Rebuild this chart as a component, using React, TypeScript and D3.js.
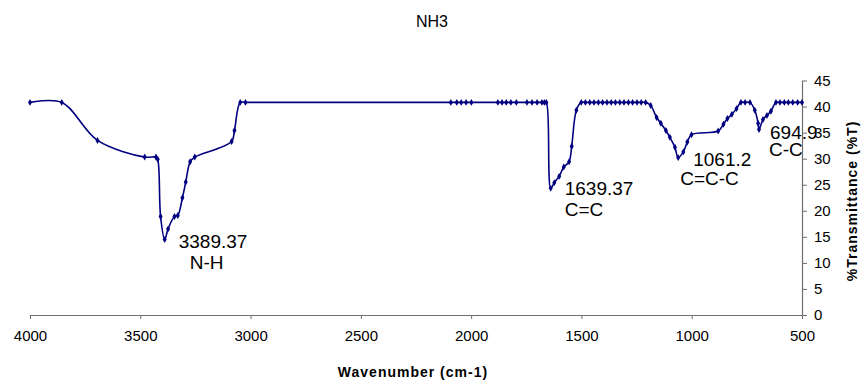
import React, { useEffect, useRef } from "react";
import * as d3 from "d3";

// IR spectrum of NH3
const wavenumbers = [
  4000, 3856, 3694, 3480, 3429, 3421, 3408, 3389.37, 3374, 3345, 3330, 3309, 3294, 3274, 3253,
  3086, 3073, 3047, 3023,
  2092, 2065, 2045, 2023, 1999, 1879, 1860, 1841, 1820, 1795, 1747, 1724, 1701, 1679, 1668, 1659,
  1639.37, 1623, 1601, 1580, 1556, 1544, 1523,
  1501, 1482, 1462, 1443, 1423, 1404, 1384, 1365, 1346, 1326, 1307, 1287, 1268, 1248, 1229, 1209,
  1186, 1159, 1140, 1117, 1099, 1076, 1061.2, 1038, 1020, 1001,
  880, 856, 838, 818, 797, 777, 758, 736, 714, 699, 694.9, 677, 659, 641, 618,
  600, 580, 562, 542, 520, 500,
];
const transmittance = [
  40.8, 40.8, 33.5, 30.3, 30.3, 29.9, 18.9, 14.5, 16.5, 18.9, 19.1, 22.5, 25.5, 29.4, 30.3,
  33.3, 35.4, 40.8, 40.8,
  40.8, 40.8, 40.8, 40.8, 40.8, 40.8, 40.8, 40.8, 40.8, 40.8, 40.8, 40.8, 40.8, 40.8, 40.8, 40.8,
  24.3, 25.4, 26.6, 28.4, 29.4, 32.4, 39.3,
  40.8, 40.8, 40.8, 40.8, 40.8, 40.8, 40.8, 40.8, 40.8, 40.8, 40.8, 40.8, 40.8, 40.8, 40.8, 40.8,
  40.2, 37.9, 36.8, 35.4, 34.1, 32.2, 30.2, 31.3, 33.2, 34.6,
  35.3, 36.6, 37.7, 38.5, 39.6, 40.8, 40.8, 40.8, 39.3, 36.8, 35.6, 37.5, 38.3, 39.1, 40.8,
  40.8, 40.8, 40.8, 40.8, 40.8, 40.8,
];

const peakWavenumbers = [3389.37, 1639.37, 1061.2, 694.9];
const peakBonds = ["N-H", "C=C", "C=C-C", "C-C"];
// label offsets from the peak point: [dx line1, dy line1, dx line2, dy line2]
const peakOffsets = [
  [14, 9, 25, 30],
  [14, 7, 14, 28],
  [15, 8, 2, 27],
  [11, 10, 10, 27],
];

const xTicks = [4000, 3500, 3000, 2500, 2000, 1500, 1000, 500];
const yTicks = [0, 5, 10, 15, 20, 25, 30, 35, 40, 45];

const FONT = "'Liberation Sans', Arial, sans-serif";
const NAVY = "#000080";
const AXIS = "#6e6e6e";

const App: React.FC = () => {
  const svgRef = useRef<SVGSVGElement>(null);

  useEffect(() => {
    if (!svgRef.current) return;
    const svg = d3.select(svgRef.current);
    const width = 862;
    const height = 382;
    svg.attr("width", width).attr("height", height);

    const x = d3.scaleLinear().domain([4000, 500]).range([30, 802]);
    const y = d3.scaleLinear().domain([0, 45]).range([315, 80.5]);

    // title
    svg
      .append("text")
      .attr("x", 432)
      .attr("y", 27)
      .attr("text-anchor", "middle")
      .style("font-family", FONT)
      .style("font-size", "16px")
      .text("NH3");

    // x axis
    const gx = svg
      .append("g")
      .attr("transform", `translate(0,${y(0)})`)
      .call(
        d3
          .axisBottom(x)
          .tickValues(xTicks)
          .tickFormat(d3.format("d"))
          .tickSize(4)
          .tickSizeOuter(0)
          .tickPadding(11)
      );
    gx.select(".domain").attr("stroke", AXIS).attr("stroke-width", 1.2);
    gx.selectAll(".tick line").attr("stroke", AXIS);
    gx.selectAll(".tick text")
      .attr("fill", "#000")
      .style("font-family", FONT)
      .style("font-size", "15px");

    // y axis (right side)
    const gy = svg
      .append("g")
      .attr("transform", `translate(${x(500)},0)`)
      .call(d3.axisRight(y).tickValues(yTicks).tickSize(5).tickSizeOuter(0).tickPadding(7));
    gy.select(".domain").attr("stroke", AXIS).attr("stroke-width", 1.2);
    gy.selectAll(".tick line").attr("stroke", AXIS);
    gy.selectAll(".tick text")
      .attr("fill", "#000")
      .style("font-family", FONT)
      .style("font-size", "15px");

    // axis titles
    svg
      .append("text")
      .attr("x", 413)
      .attr("y", 377)
      .attr("text-anchor", "middle")
      .style("font-family", FONT)
      .style("font-size", "14px")
      .style("font-weight", "bold")
      .style("letter-spacing", "1px")
      .text("Wavenumber (cm-1)");

    svg
      .append("text")
      .attr("transform", `translate(857,201) rotate(-90)`)
      .attr("text-anchor", "middle")
      .style("font-family", FONT)
      .style("font-size", "14px")
      .style("font-weight", "bold")
      .style("letter-spacing", "1px")
      .text("%Transmittance (%T)");

    const points = wavenumbers.map((w, i) => ({ w, t: transmittance[i] }));

    const line = d3
      .line<{ w: number; t: number }>()
      .x((d) => x(d.w))
      .y((d) => y(d.t))
      .curve(d3.curveCatmullRom.alpha(0.5));

    svg
      .append("path")
      .datum(points)
      .attr("fill", "none")
      .attr("stroke", NAVY)
      .attr("stroke-width", 1.6)
      .attr("d", line);

    const diamond = d3.symbol().type(d3.symbolDiamond).size(14);
    svg
      .append("g")
      .selectAll("path")
      .data(points)
      .enter()
      .append("path")
      .attr("transform", (d) => `translate(${x(d.w)},${y(d.t)})`)
      .attr("d", diamond)
      .attr("fill", NAVY);

    // peak labels
    peakWavenumbers.forEach((w, i) => {
      const t = transmittance[wavenumbers.indexOf(w)];
      const px = x(w);
      const py = y(t);
      const [dx1, dy1, dx2, dy2] = peakOffsets[i];
      svg
        .append("text")
        .attr("x", px + dx1)
        .attr("y", py + dy1)
        .style("font-family", FONT)
        .style("font-size", "19px")
        .text(String(w));
      svg
        .append("text")
        .attr("x", px + dx2)
        .attr("y", py + dy2)
        .style("font-family", FONT)
        .style("font-size", "19px")
        .text(peakBonds[i]);
    });

    return () => {
      svg.selectAll("*").remove();
    };
  }, []);

  return (
    <svg
      ref={svgRef}
      style={{ position: "absolute", left: 0, top: 0, background: "#fff" }}
    />
  );
};

export default App;
